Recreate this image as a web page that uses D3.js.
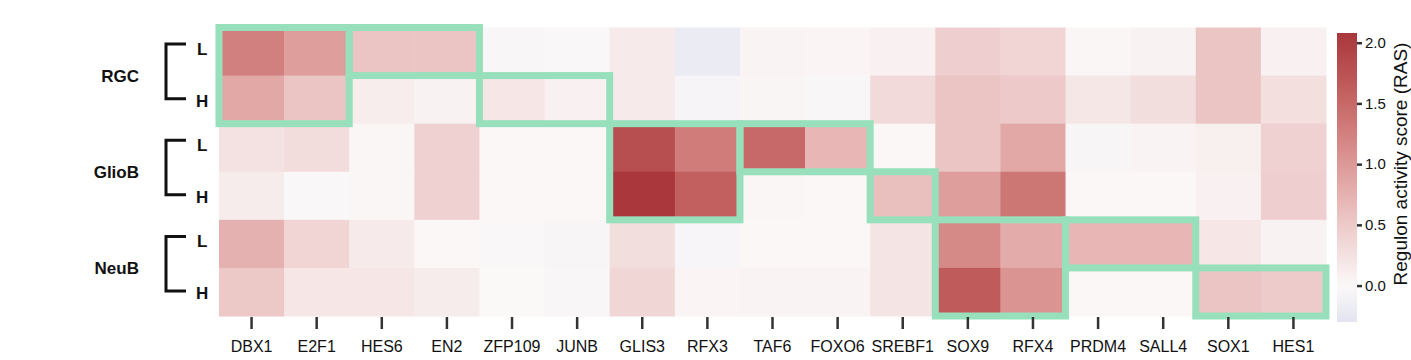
<!DOCTYPE html>
<html>
<head>
<meta charset="utf-8">
<script src="https://cdn.jsdelivr.net/npm/d3@7"></script>
<style>
  body { margin: 0; background: #fff; }
  svg { font-family: "Liberation Sans", Arial, sans-serif; }
</style>
</head>
<body>
<script>
// regulons (columns)
const genes = ["DBX1", "E2F1", "HES6", "EN2", "ZFP109", "JUNB", "GLIS3", "RFX3", "TAF6",
  "FOXO6", "SREBF1", "SOX9", "RFX4", "PRDM4", "SALL4", "SOX1", "HES1"]

const groups = ["RGC", "GlioB", "NeuB"]
const levels = ["L", "H"]

// RAS values, one array per row
const rgcL   = [1.25, 0.95, 0.55, 0.55, -0.03, -0.02, 0.15, -0.2, 0.05, 0.04, 0.08, 0.45, 0.38, 0.02, 0.06, 0.55, 0.08]
const rgcH   = [0.85, 0.55, 0.12, 0.07, 0.20, 0.08, 0.15, -0.06, 0.03, -0.03, 0.32, 0.55, 0.50, 0.18, 0.28, 0.55, 0.27]
const gliobL = [0.24, 0.30, 0.02, 0.42, 0.01, 0.01, 1.80, 1.30, 1.50, 0.70, 0.01, 0.55, 0.85, -0.04, 0.05, 0.10, 0.42]
const gliobH = [0.13, -0.01, 0.02, 0.42, 0.01, 0.01, 2.08, 1.60, 0.02, 0.01, 0.60, 0.95, 1.35, 0.01, 0.01, 0.08, 0.45]
const neubL  = [0.75, 0.38, 0.15, 0.01, -0.01, -0.04, 0.28, -0.05, 0.01, 0.01, 0.22, 1.15, 0.80, 0.70, 0.70, 0.20, 0.06]
const neubH  = [0.52, 0.20, 0.20, 0.13, 0.00, -0.03, 0.37, 0.04, 0.05, 0.05, 0.22, 1.65, 1.05, 0.01, 0.01, 0.55, 0.48]

const rowValues = [rgcL, rgcH, gliobL, gliobH, neubL, neubH]
const rowKeys = ["RGC-L", "RGC-H", "GlioB-L", "GlioB-H", "NeuB-L", "NeuB-H"]

// highlighted blocks: [first gene, last gene, first row, last row]
const boxes = [
  ["DBX1", "E2F1", "RGC-L", "RGC-H"],
  ["HES6", "EN2", "RGC-L", "RGC-L"],
  ["ZFP109", "JUNB", "RGC-H", "RGC-H"],
  ["GLIS3", "RFX3", "GlioB-L", "GlioB-H"],
  ["TAF6", "FOXO6", "GlioB-L", "GlioB-L"],
  ["SREBF1", "SREBF1", "GlioB-H", "GlioB-H"],
  ["SOX9", "RFX4", "NeuB-L", "NeuB-H"],
  ["PRDM4", "SALL4", "NeuB-L", "NeuB-L"],
  ["SOX1", "HES1", "NeuB-H", "NeuB-H"]
]

const cbarTicks = [0, 0.5, 1.0, 1.5, 2.0]
const vmin = -0.3
const vmax = 2.08

const w = 1411
const h = 360

const svg = d3.select("body")
  .append("svg")
  .attr("width", w)
  .attr("height", h)

const xScale = d3.scaleBand().domain(genes).range([219, 1326])
const yScale = d3.scaleBand().domain(rowKeys).range([27.5, 316])

// diverging colour map centred on 0 (vlag-like)
const vrange = Math.max(vmax, -vmin)
const redPart = d3.interpolateRgbBasis(["#fbf8f8", "#edc8c8", "#db9593", "#c46260", "#a9373b"])
const bluePart = d3.interpolateRgbBasis(["#fbf8f8", "#d0d6ea", "#93abd8", "#5585c9", "#2369bd"])
function colorOf(v) {
  return v >= 0 ? redPart(v / vrange) : bluePart(-v / vrange)
}

// cells
const cells = []
rowValues.forEach((vals, i) => {
  vals.forEach((v, j) => cells.push({ row: rowKeys[i], gene: genes[j], value: v }))
})

svg.append("g")
  .selectAll("rect")
  .data(cells)
  .enter()
  .append("rect")
  .attr("x", d => xScale(d.gene))
  .attr("y", d => yScale(d.row))
  .attr("width", xScale.bandwidth() + 0.5)
  .attr("height", yScale.bandwidth() + 0.5)
  .style("fill", d => colorOf(d.value))

// green outlines
svg.append("g")
  .selectAll("rect")
  .data(boxes)
  .enter()
  .append("rect")
  .attr("x", d => xScale(d[0]))
  .attr("y", d => yScale(d[2]))
  .attr("width", d => xScale(d[1]) + xScale.bandwidth() - xScale(d[0]))
  .attr("height", d => yScale(d[3]) + yScale.bandwidth() - yScale(d[2]))
  .style("fill", "none")
  .style("stroke", "#97e0bb")
  .style("stroke-width", 7)

// x axis
const xAxis = d3.axisBottom(xScale).tickSize(12).tickPadding(12)
const gx = svg.append("g")
  .attr("transform", "translate(0, 317)")
  .call(xAxis)
gx.select(".domain").remove()
gx.selectAll(".tick line").style("stroke", "#333").style("stroke-width", 2.5)
gx.selectAll(".tick text")
  .style("font-size", "16px")
  .style("fill", "#111")
  .style("font-family", "'Liberation Sans', Arial, sans-serif")

// row labels, brackets, group labels
groups.forEach(g => {
  const yL = yScale(g + "-L") + yScale.bandwidth() / 2
  const yH = yScale(g + "-H") + yScale.bandwidth() / 2
  const top = yL - 7.5
  const bot = yH - 1
  svg.append("path")
    .attr("d", `M186,${top}H166V${bot}H186`)
    .style("fill", "none")
    .style("stroke", "#111")
    .style("stroke-width", 3)

  svg.append("text")
    .attr("x", 197)
    .attr("y", yL - 2)
    .attr("dominant-baseline", "central")
    .style("font-size", "17px")
    .style("font-weight", "bold")
    .style("fill", "#111")
    .text("L")
  svg.append("text")
    .attr("x", 196)
    .attr("y", yH + 2)
    .attr("dominant-baseline", "central")
    .style("font-size", "17px")
    .style("font-weight", "bold")
    .style("fill", "#111")
    .text("H")

  svg.append("text")
    .attr("x", 139)
    .attr("y", (yL + yH) / 2 + 1)
    .attr("text-anchor", "end")
    .attr("dominant-baseline", "central")
    .style("font-size", "17px")
    .style("font-weight", "bold")
    .style("fill", "#111")
    .text(g)
})

// colour bar
const cbScale = d3.scaleLinear().domain([vmin, vmax]).range([322, 33])

const defs = svg.append("defs")
const grad = defs.append("linearGradient")
  .attr("id", "cbar")
  .attr("x1", 0).attr("y1", 1)
  .attr("x2", 0).attr("y2", 0)
d3.range(0, 1.0001, 0.02).forEach(t => {
  grad.append("stop")
    .attr("offset", t)
    .attr("stop-color", colorOf(vmin + t * (vmax - vmin)))
})

svg.append("rect")
  .attr("x", 1337)
  .attr("y", cbScale(vmax))
  .attr("width", 20)
  .attr("height", cbScale(vmin) - cbScale(vmax))
  .style("fill", "url(#cbar)")

const cbAxis = d3.axisRight(cbScale)
  .tickValues(cbarTicks)
  .tickFormat(d3.format(".1f"))
  .tickSize(5)
  .tickPadding(3)
const gc = svg.append("g")
  .attr("transform", "translate(1357, 0)")
  .call(cbAxis)
gc.select(".domain").remove()
gc.selectAll(".tick line").style("stroke", "#333").style("stroke-width", 2.5)
gc.selectAll(".tick text")
  .style("font-size", "15px")
  .style("fill", "#111")
  .style("font-family", "'Liberation Sans', Arial, sans-serif")

svg.append("text")
  .attr("transform", "translate(1400, 164) rotate(-90)")
  .attr("text-anchor", "middle")
  .attr("dominant-baseline", "central")
  .style("font-size", "19px")
  .style("fill", "#111")
  .text("Regulon activity score (RAS)")
</script>
</body>
</html>
